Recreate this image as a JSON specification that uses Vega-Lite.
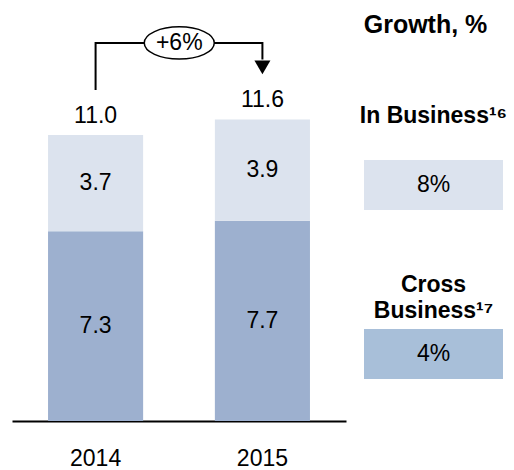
{
  "$schema": "https://vega.github.io/schema/vega-lite/v6.json",
  "padding": {"left": 12, "top": 5, "right": 0, "bottom": 0},
  "bounds": "flush",
  "spacing": 18,
  "config": {"view": {"stroke": null}, "font": "Liberation Sans"},
  "datasets": {
    "bars": [
      {"year": "2014", "segment": "Cross Business", "value": 7.3},
      {"year": "2014", "segment": "In Business", "value": 3.7},
      {"year": "2015", "segment": "Cross Business", "value": 7.7},
      {"year": "2015", "segment": "In Business", "value": 3.9}
    ],
    "totals": [
      {"year": "2014", "total": 11.0},
      {"year": "2015", "total": 11.6}
    ],
    "bracket": [
      {"year": "2014", "level": 12.73, "step": 1},
      {"year": "2014", "level": 14.54, "step": 2},
      {"year": "2015", "level": 14.54, "step": 3},
      {"year": "2015", "level": 13.9, "step": 4}
    ],
    "change": [
      {"year": "2014", "level": 14.54, "label": "+6%"}
    ],
    "arrow": [
      {"year": "2015", "level": 13.6}
    ],
    "growth": [
      {"segment": "In Business", "growth": 0.08, "label": "In Business¹⁶"},
      {"segment": "Cross Business", "growth": 0.04, "label": "Cross\nBusiness¹⁷"}
    ],
    "header": [
      {"title": "Growth, %"}
    ]
  },
  "resolve": {"scale": {"color": "independent", "y": "independent", "x": "independent"}},
  "hconcat": [
    {
      "width": 334,
      "height": 416,
      "layer": [
        {
          "data": {"name": "bars"},
          "mark": {"type": "bar"},
          "encoding": {
            "x": {
              "field": "year", "type": "nominal",
              "scale": {"paddingInner": 0.43, "paddingOuter": 0.216},
              "axis": {
                "title": null, "domainColor": "black", "domainWidth": 2,
                "ticks": false, "tickSize": 0, "labelPadding": 26,
                "labelFontSize": 23, "labelColor": "black", "labelAngle": 0, "grid": false
              }
            },
            "y": {"field": "value", "type": "quantitative", "stack": "zero", "scale": {"domain": [0, 16]}, "axis": null},
            "color": {
              "field": "segment", "type": "nominal",
              "scale": {"domain": ["Cross Business", "In Business"], "range": ["#9DB0CF", "#DCE3EE"]},
              "legend": null
            },
            "order": {"field": "segment"}
          }
        },
        {
          "data": {"name": "bars"},
          "mark": {"type": "text", "fontSize": 23, "baseline": "middle", "color": "black"},
          "encoding": {
            "x": {"field": "year", "type": "nominal"},
            "y": {"field": "value", "type": "quantitative", "stack": "zero", "bandPosition": 0.5},
            "detail": {"field": "segment"},
            "order": {"field": "segment"},
            "text": {"field": "value", "type": "quantitative", "format": ".1f"}
          }
        },
        {
          "data": {"name": "totals"},
          "mark": {"type": "text", "fontSize": 23, "baseline": "alphabetic", "dy": -12, "color": "black"},
          "encoding": {
            "x": {"field": "year", "type": "nominal"},
            "y": {"field": "total", "type": "quantitative"},
            "text": {"field": "total", "type": "quantitative", "format": ".1f"}
          }
        },
        {
          "data": {"name": "bracket"},
          "mark": {"type": "line", "color": "black", "strokeWidth": 2},
          "encoding": {
            "x": {"field": "year", "type": "nominal"},
            "y": {"field": "level", "type": "quantitative"},
            "order": {"field": "step"}
          }
        },
        {
          "data": {"name": "change"},
          "mark": {
            "type": "point", "shape": "M-1,0A1,0.46,0,1,1,1,0A1,0.46,0,1,1,-1,0Z",
            "size": 4900, "filled": false, "fill": "white", "fillOpacity": 1,
            "stroke": "black", "strokeWidth": 1.5, "opacity": 1
          },
          "encoding": {
            "x": {"field": "year", "type": "nominal", "bandPosition": 1.38},
            "y": {"field": "level", "type": "quantitative"}
          }
        },
        {
          "data": {"name": "change"},
          "mark": {"type": "text", "fontSize": 23, "baseline": "middle", "color": "black"},
          "encoding": {
            "x": {"field": "year", "type": "nominal", "bandPosition": 1.38},
            "y": {"field": "level", "type": "quantitative"},
            "text": {"field": "label"}
          }
        },
        {
          "data": {"name": "arrow"},
          "mark": {"type": "point", "shape": "triangle-down", "size": 256, "filled": true, "color": "black", "opacity": 1},
          "encoding": {
            "x": {"field": "year", "type": "nominal"},
            "y": {"field": "level", "type": "quantitative"}
          }
        }
      ]
    },
    {
      "width": 139,
      "height": 416,
      "layer": [
        {
          "data": {"name": "growth"},
          "mark": {"type": "rect"},
          "encoding": {
            "y": {
              "field": "segment", "type": "nominal",
              "scale": {"domain": ["In Business", "Cross Business"], "paddingInner": 0.7041, "paddingOuter": 0.5828, "align": 0.787},
              "axis": null
            },
            "color": {
              "field": "segment", "type": "nominal",
              "scale": {"domain": ["In Business", "Cross Business"], "range": ["#DCE3EE", "#A8BFD9"]},
              "legend": null
            }
          }
        },
        {
          "data": {"name": "growth"},
          "mark": {"type": "text", "fontSize": 23, "baseline": "middle", "color": "black"},
          "encoding": {
            "y": {"field": "segment", "type": "nominal"},
            "text": {"field": "growth", "type": "quantitative", "format": ".0%"}
          }
        },
        {
          "data": {"name": "growth"},
          "mark": {
            "type": "text", "fontSize": 23, "fontWeight": "bold", "baseline": "alphabetic",
            "lineBreak": "\n", "lineHeight": 26, "dy": -37, "color": "black"
          },
          "encoding": {
            "y": {"field": "segment", "type": "nominal", "bandPosition": 0},
            "text": {"field": "label"}
          }
        },
        {
          "data": {"name": "header"},
          "mark": {
            "type": "text", "fontSize": 25, "fontWeight": "bold", "baseline": "alphabetic",
            "dy": -127, "dx": -8, "color": "black"
          },
          "encoding": {
            "y": {"datum": "In Business", "type": "nominal", "bandPosition": 0},
            "text": {"field": "title"}
          }
        }
      ]
    }
  ]
}
